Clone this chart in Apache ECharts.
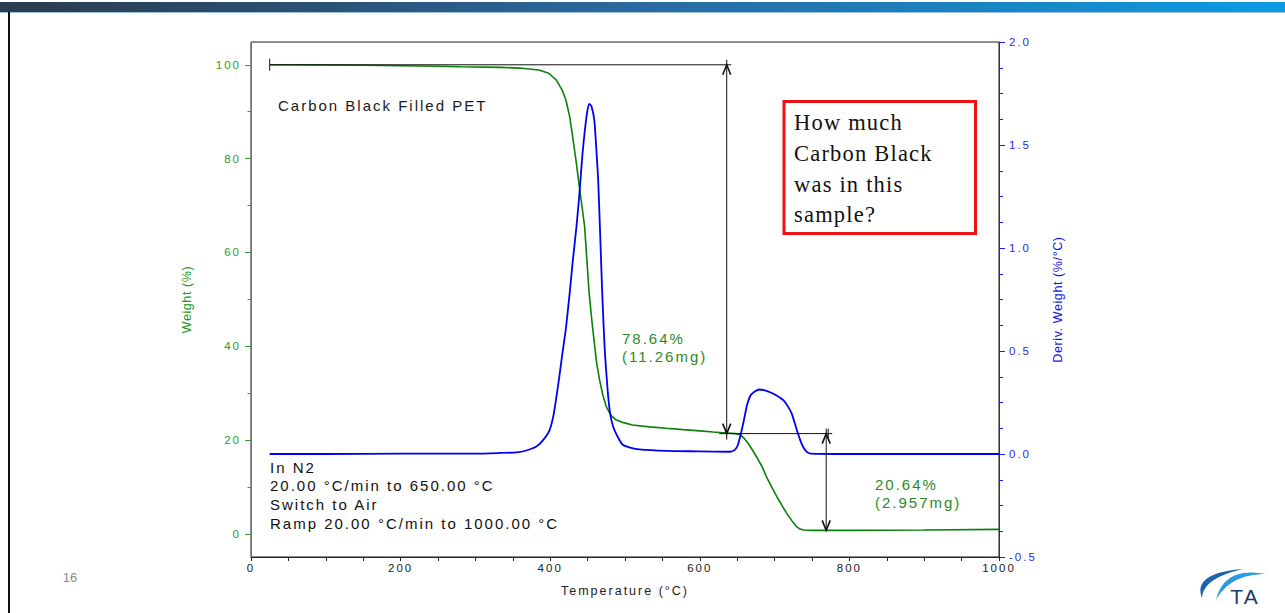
<!DOCTYPE html>
<html>
<head>
<meta charset="utf-8">
<script src="https://cdn.jsdelivr.net/npm/echarts@6/dist/echarts.min.js"></script>
<style>
  html, body { margin: 0; padding: 0; background: #fff; }
  #chart { width: 1285px; height: 613px; }
  #chart svg text { letter-spacing: 2px; }
  #chart svg text[style*="Serif"] { letter-spacing: 1.2px; }
  #chart svg text[fill="#219a21"], #chart svg text[fill="#1515ec"] { letter-spacing: 0.6px; }
  #chart svg text[fill="#8a8a8a"] { letter-spacing: 0; }
</style>
</head>
<body>
<div id="chart"></div>
<script>
// ---------- data ----------
const weightTemp = [25, 80, 150, 200, 250, 280, 333, 359, 385, 398, 408, 416, 421, 426, 430, 435, 439, 443, 446, 449, 452, 456, 459, 462, 466, 470, 475, 481, 488, 498, 510, 533, 555, 578, 600, 618, 636, 648, 654, 659, 665, 671, 677, 683, 689, 696, 703, 710, 716, 723, 729, 734, 739, 748, 800, 900, 1000];
const weightPct  = [100.0, 99.98, 99.9, 99.8, 99.68, 99.57, 99.45, 99.3, 98.9, 98.2, 96.8, 94.6, 92.5, 89.0, 84.7, 79.0, 74.0, 69.2, 65.5, 58.5, 51.4, 45.0, 40.7, 36.5, 32.8, 29.8, 27.1, 25.3, 24.3, 23.7, 23.2, 22.8, 22.5, 22.2, 21.95, 21.7, 21.5, 21.35, 21.1, 20.4, 19.2, 17.7, 16.1, 14.4, 12.2, 10.0, 7.9, 6.0, 4.4, 2.8, 1.6, 1.0, 0.8, 0.72, 0.72, 0.8, 0.95];

const derivTemp = [25, 100, 200, 300, 333, 355, 368, 381, 390, 399, 405, 412, 416, 421, 426, 430, 435, 439, 443, 446, 449, 452, 455, 459, 462, 464, 466, 468, 470, 473, 477, 480, 484, 490, 497, 508, 519, 555, 598, 640, 647, 651, 655, 659, 663, 668, 674, 680, 688, 694, 702, 712, 718, 723, 729, 734, 738, 743, 748, 800, 900, 1000];
const derivVal  = [0.0, 0.0, 0.002, 0.002, 0.005, 0.008, 0.017, 0.035, 0.065, 0.115, 0.2, 0.37, 0.48, 0.61, 0.78, 0.93, 1.1, 1.26, 1.45, 1.56, 1.65, 1.70, 1.69, 1.62, 1.46, 1.34, 1.15, 0.94, 0.74, 0.5, 0.3, 0.2, 0.135, 0.085, 0.045, 0.03, 0.022, 0.015, 0.013, 0.011, 0.02, 0.045, 0.1, 0.165, 0.235, 0.285, 0.305, 0.313, 0.308, 0.30, 0.285, 0.26, 0.23, 0.195, 0.125, 0.07, 0.035, 0.01, 0.002, 0.0, 0.0, 0.0];

// step-change measurements: [arrow temperature, upper level, lower level, baseline start, baseline end]
const stepArrowTemp  = [636, 769];
const stepUpper      = [100, 21.36];
const stepLower      = [21.36, 0.72];
const stepLineStart  = [25, 626];
const stepLineEnd    = [642, 777];

const weightTicks      = [0, 20, 40, 60, 80, 100];
const weightMinorTicks = [10, 30, 50, 70, 90];

const sampleTitle = 'Carbon Black Filled PET';
const methodLines = ['In N2', '20.00 \u00B0C/min to 650.00 \u00B0C', 'Switch to Air', 'Ramp 20.00 \u00B0C/min to 1000.00 \u00B0C'];
const step1Label = ['78.64%', '(11.26mg)'];
const step2Label = ['20.64%', '(2.957mg)'];
const questionLines = ['How much', 'Carbon Black', 'was in this', 'sample?'];
const pageNumber = '16';

// ---------- build ----------
const SANS = '"Liberation Sans", Arial, Helvetica, sans-serif';
const SERIF = '"Liberation Serif", "Times New Roman", serif';
const weightData = weightTemp.map((t, i) => [t, weightPct[i]]);
const derivData = derivTemp.map((t, i) => [t, derivVal[i]]);
const stepData = stepArrowTemp.map((t, i) => [t, stepUpper[i], stepLower[i], stepLineStart[i], stepLineEnd[i]]);

const chart = echarts.init(document.getElementById('chart'), null, { renderer: 'svg', width: 1285, height: 613 });

const LEFT_MIN = -4.95, LEFT_MAX = 104.86;

function txt(text, x, y, font, fill, extra) {
  return {
    type: 'text', silent: true, z: 100,
    style: Object.assign({ text: text, x: x, y: y, font: font, fill: fill,
      align: 'left', verticalAlign: 'top', textAlign: 'left', textVerticalAlign: 'top' }, extra || {})
  };
}
// crescent outline (decorative logo) from two quadratic curves
function crescent(p0, c1, p1, c2, n) {
  const pts = [];
  const q = (a, c, b, t) => [(1 - t) * (1 - t) * a[0] + 2 * (1 - t) * t * c[0] + t * t * b[0],
                              (1 - t) * (1 - t) * a[1] + 2 * (1 - t) * t * c[1] + t * t * b[1]];
  for (let i = 0; i <= n; i++) pts.push(q(p0, c1, p1, i / n));
  for (let i = n; i >= 0; i--) pts.push(q(p0, c2, p1, i / n));
  return pts;
}

const option = {
  animation: false,
  backgroundColor: '#ffffff',
  grid: { left: 251, right: 286, top: 42, bottom: 56, show: true, borderColor: '#222', borderWidth: 1,
          backgroundColor: 'transparent', containLabel: false, outerBoundsMode: 'none' },
  xAxis: {
    type: 'value', min: 0, max: 1000, interval: 200, position: 'bottom',
    axisLine: { show: true, onZero: false, lineStyle: { color: '#222', width: 1 } },
    axisTick: { show: true, length: 4, lineStyle: { color: '#222' } },
    minorTick: { show: true, splitNumber: 4, length: 4, lineStyle: { color: '#222' } },
    splitLine: { show: false }, minorSplitLine: { show: false },
    axisLabel: { color: '#222', fontSize: 11.5, fontFamily: SANS, margin: 5, formatter: v => String(v) },
    name: 'Temperature (\u00B0C)', nameLocation: 'middle', nameGap: 27,
    nameTextStyle: { color: '#222', fontSize: 12.5, fontFamily: SANS }
  },
  yAxis: [
    {
      type: 'value', min: LEFT_MIN, max: LEFT_MAX, position: 'left',
      axisLine: { show: true, onZero: false, lineStyle: { color: '#3a9a3a', width: 1 } },
      axisTick: { show: true, length: 6, customValues: weightTicks, lineStyle: { color: '#3a9a3a' } },
      axisLabel: { customValues: weightTicks, color: '#2e9a2e', fontSize: 11.5, fontFamily: SANS, margin: 10 },
      splitLine: { show: false },
      name: 'Weight (%)', nameLocation: 'middle', nameRotate: 90, nameGap: 58,
      nameTextStyle: { color: '#219a21', fontSize: 12.5, fontFamily: SANS }
    },
    {
      type: 'value', min: -0.5, max: 2.0, interval: 0.5, position: 'right',
      axisLine: { show: true, onZero: false, lineStyle: { color: '#1a1aff', width: 1 } },
      axisTick: { show: true, length: 6, lineStyle: { color: '#1a1aff' } },
      minorTick: { show: true, splitNumber: 4, length: 4, lineStyle: { color: '#1a1aff' } },
      axisLabel: { color: '#2a2aee', fontSize: 11.5, fontFamily: SANS, margin: 10,
                   formatter: v => v.toFixed(1) },
      splitLine: { show: false }, minorSplitLine: { show: false },
      name: 'Deriv. Weight (%/\u00B0C)', nameLocation: 'middle', nameRotate: 90, nameGap: 52,
      nameTextStyle: { color: '#1515ec', fontSize: 12.5, fontFamily: SANS }
    },
    {
      type: 'value', min: LEFT_MIN, max: LEFT_MAX, position: 'left', offset: 0,
      axisLine: { show: false },
      axisTick: { show: true, length: 3.5, customValues: weightMinorTicks, lineStyle: { color: '#3a9a3a' } },
      axisLabel: { show: false }, splitLine: { show: false }
    }
  ],
  series: [
    {
      type: 'line', name: 'Weight', yAxisIndex: 0, data: weightData, showSymbol: false, symbol: 'none',
      lineStyle: { color: '#0a800a', width: 1.6 }, z: 3
    },
    {
      type: 'line', name: 'Deriv. Weight', yAxisIndex: 1, data: derivData, showSymbol: false, symbol: 'none',
      smooth: 0.2,
      lineStyle: { color: '#0000f5', width: 1.8 }, z: 4
    },
    {
      type: 'custom', name: 'steps', yAxisIndex: 0, data: stepData, clip: false, z: 5,
      encode: { x: [0, 3, 4], y: [1, 2] },
      renderItem: function (params, api) {
        const t = api.value(0), up = api.value(1), lo = api.value(2), hs = api.value(3), he = api.value(4);
        const pA = api.coord([t, up]);
        const pB = api.coord([t, lo]);
        const pS = api.coord([hs, up]);
        const pE = api.coord([he, up]);
        const st = { stroke: '#111', lineWidth: 1, fill: null };
        const sth = { stroke: '#111', lineWidth: 1.6, fill: null };
        const ch = [
          { type: 'line', shape: { x1: pS[0], y1: pS[1], x2: pE[0], y2: pE[1] }, style: st },
          { type: 'line', shape: { x1: pA[0], y1: pA[1] - 5, x2: pB[0], y2: pB[1] + (params.dataIndex === 0 ? 6 : 0) }, style: st },
          { type: 'polyline', shape: { points: [[pA[0] - 4, pA[1] + 10], [pA[0], pA[1]], [pA[0] + 4, pA[1] + 10]] }, style: sth },
          { type: 'polyline', shape: { points: [[pB[0] - 4, pB[1] - 10], [pB[0], pB[1]], [pB[0] + 4, pB[1] - 10]] }, style: sth }
        ];
        if (params.dataIndex === 0) {
          ch.push({ type: 'line', shape: { x1: pS[0], y1: pS[1] - 6, x2: pS[0], y2: pS[1] + 6 }, style: st });
        } else {
          ch.push({ type: 'line', shape: { x1: pE[0] - 4, y1: pE[1] - 5, x2: pE[0] - 4, y2: pE[1] + 5 }, style: st });
        }
        return { type: 'group', children: ch };
      }
    }
  ],
  graphic: [
    // slide header bar
    { type: 'rect', silent: true, z: 0, shape: { x: 0, y: 2, width: 1285, height: 10 },
      style: { fill: new echarts.graphic.LinearGradient(0, 0, 1, 0, [
        { offset: 0, color: '#2c3a4d' }, { offset: 0.5, color: '#2a6aa0' }, { offset: 1, color: '#0b9be2' }]) } },
    { type: 'rect', silent: true, z: 0, shape: { x: 0, y: 12, width: 1285, height: 1 }, style: { fill: '#9cc4df' } },
    // slide left rule
    { type: 'rect', silent: true, z: 0, shape: { x: 8, y: 12, width: 2, height: 601 }, style: { fill: '#111' } },
    // page number
    txt(pageNumber, 70, 577, '13px ' + SANS, '#8a8a8a', { align: 'center', textAlign: 'center', verticalAlign: 'middle', textVerticalAlign: 'middle' }),
    // annotation texts
    txt(sampleTitle, 278, 98, '15px ' + SANS, '#1a1a1a'),
    txt(methodLines.join('\n'), 270, 458, '15px ' + SANS, '#111', { lineHeight: 18.6 }),
    txt(step1Label.join('\n'), 622, 329, '15px ' + SANS, '#2a8a2a', { lineHeight: 18.6 }),
    txt(step2Label.join('\n'), 875, 475, '15px ' + SANS, '#2a8a2a', { lineHeight: 18.6 }),
    // question box
    { type: 'rect', silent: true, z: 100, shape: { x: 784, y: 101.5, width: 191.5, height: 132 },
      style: { fill: '#fff', stroke: '#ee1111', lineWidth: 3 } },
    txt(questionLines.join('\n'), 794, 107, '22.5px ' + SERIF, '#111', { lineHeight: 30.8 }),
    // TA logo
    { type: 'polygon', silent: true, z: 100,
      shape: { points: crescent([1202, 598], [1192, 573], [1243, 569], [1203, 578], 16) },
      style: { fill: '#1c63ad' } },
    { type: 'polygon', silent: true, z: 100,
      shape: { points: crescent([1216, 600], [1224, 566], [1266, 574], [1230, 574], 16) },
      style: { fill: '#2b9ae0' } },
    txt('TA', 1245, 596, '21px ' + SANS, '#1d3868', { align: 'center', textAlign: 'center', verticalAlign: 'middle', textVerticalAlign: 'middle' })
  ]
};
chart.setOption(option);
</script>
</body>
</html>
